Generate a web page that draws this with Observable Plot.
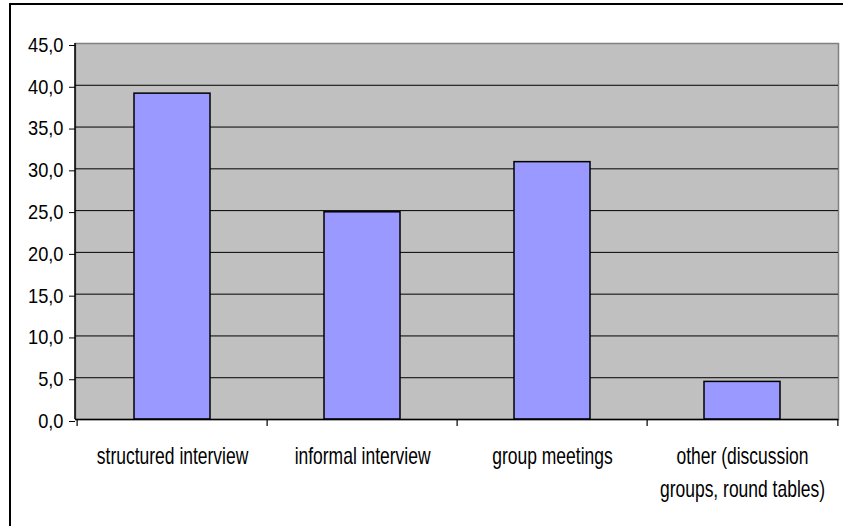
<!DOCTYPE html>
<html>
<head>
<meta charset="utf-8">
<script src="https://cdn.jsdelivr.net/npm/d3@7"></script>
<script src="https://cdn.jsdelivr.net/npm/@observablehq/plot@0.6"></script>
<style>
  html, body { margin: 0; padding: 0; background: #fff; overflow: hidden; width: 843px; height: 526px; }
  #chart { position: absolute; left: 0; top: 0; }
  #border { position: absolute; left: 9px; top: 3px; width: 1000px; height: 1000px; border: 2px solid #000; pointer-events: none; }
</style>
</head>
<body>
<div id="chart"></div>
<div id="border"></div>
<script>
// Consultation methods used, share in percent
const categories = ["structured interview", "informal interview", "group meetings", "other"];
const tickLabels = ["structured interview", "informal interview", "group meetings", "other (discussion\ngroups, round tables)"];
const values = [39.0, 24.8, 30.8, 4.5];
const yTicks = [0, 5, 10, 15, 20, 25, 30, 35, 40, 45];
const gridTicks = [5, 10, 15, 20, 25, 30, 35, 40];

const data = categories.map((c, i) => ({category: c, value: values[i]}));
const labelOf = new Map(categories.map((c, i) => [c, tickLabels[i]]));
const fmt = d => d.toFixed(1).replace(".", ",");

const W = 843, H = 526;
const mL = 75, mR = 5, mT = 43, mB = 107;
const step = (W - mL - mR) / categories.length;

// left axis line along the plot area
const leftLine = (index, scales, values, dims) =>
  d3.create("svg:line")
    .attr("x1", dims.marginLeft).attr("x2", dims.marginLeft)
    .attr("y1", dims.marginTop).attr("y2", dims.height - dims.marginBottom)
    .attr("stroke", "#000").attr("stroke-width", 1.5)
    .node();

const svg = Plot.plot({
  width: W,
  height: H,
  marginLeft: mL,
  marginRight: mR,
  marginTop: mT,
  marginBottom: mB,
  style: {fontFamily: "'Liberation Sans', Arial, sans-serif", color: "#000", background: "transparent", overflow: "visible"},
  x: {domain: categories, paddingInner: 0.6, paddingOuter: 0.3, label: null},
  y: {domain: [0, 45], label: null},
  marks: [
    Plot.frame({fill: "#C0C0C0", stroke: "#808080", strokeWidth: 1.5}),
    Plot.gridY(gridTicks, {stroke: "#000", strokeOpacity: 1, strokeWidth: 1}),
    Plot.barY(data, {x: "category", y: "value", fill: "#9999FF", stroke: "#000", strokeWidth: 1.5}),
    Plot.ruleY([0], {stroke: "#000", strokeWidth: 1.5}),
    leftLine,
    Plot.axisY({ticks: yTicks, tickSize: 6, tickPadding: 6, fontSize: 20, dy: 2,
      tickFormat: fmt, stroke: "#000"}),
    // category boundary ticks
    Plot.axisX({tickSize: 7, text: null, dx: -step / 2, stroke: "#000", strokeWidth: 1.2}),
    Plot.axisX([categories[categories.length - 1]], {tickSize: 7, text: null, dx: step / 2, stroke: "#000", strokeWidth: 1.2}),
    Plot.axisX({tickSize: 0, tickPadding: 21, fontSize: 24, lineHeight: 1.375,
      tickFormat: d => labelOf.get(d)})
  ]
});

document.getElementById("chart").appendChild(svg);

// narrow the tick label glyphs horizontally around their anchor point
function wrapText(t, fs) {
  t.setAttribute("font-size", fs);
  const wrap = document.createElementNS("http://www.w3.org/2000/svg", "g");
  t.parentNode.insertBefore(wrap, t);
  wrap.appendChild(t);
  return wrap;
}
function squeezeAll(wraps, s, anchor) {
  wraps.forEach(w => {
    const b = w.getBBox();
    const ax = anchor === "end" ? b.x + b.width : b.x + b.width / 2;
    w.setAttribute("transform", `translate(${ax},0) scale(${s},1) translate(${-ax},0)`);
  });
}
const yNames = new Set(yTicks.map(fmt));
const allTexts = Array.from(svg.querySelectorAll("text"));
const yTexts = allTexts.filter(t => yNames.has(t.textContent.trim()));
const xTexts = allTexts.filter(t => !yNames.has(t.textContent.trim()));

const yWraps = yTexts.map(t => wrapText(t, 20));
const yWidest = d3.max(yWraps, w => w.getBBox().width);
squeezeAll(yWraps, 35.5 / yWidest, "end");

const xWraps = xTexts.map(t => wrapText(t, 24));
const xRef = xWraps.find(w => w.textContent.trim() === tickLabels[0]) || xWraps[0];
squeezeAll(xWraps, 152 / xRef.getBBox().width, "middle");
</script>
</body>
</html>
